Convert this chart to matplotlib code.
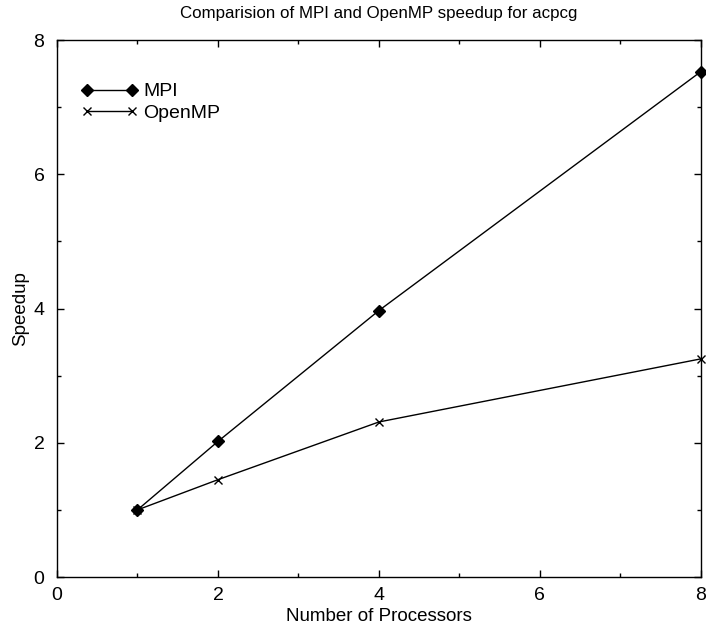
import matplotlib
matplotlib.use("Agg")
import matplotlib.pyplot as plt
from matplotlib.ticker import MultipleLocator

plt.rcParams['font.family'] = ['Liberation Sans', 'DejaVu Sans']

procs = [1, 2, 4, 8]
mpi = [1.0, 2.02, 3.97, 7.53]
openmp = [1.0, 1.45, 2.31, 3.25]

fig = plt.figure(figsize=(7.06, 6.28), dpi=100)
ax = fig.add_axes([0.0807, 0.0812, 0.912, 0.855])

ax.plot(procs, mpi, color='black', lw=1, marker='D', ms=6.2, label='MPI', clip_on=False)
ax.plot(procs, openmp, color='black', lw=1, marker='x', ms=6, mew=1, label='OpenMP', clip_on=False)

ax.set_xlim(0, 8)
ax.set_ylim(0, 8)
ax.xaxis.set_major_locator(MultipleLocator(2))
ax.xaxis.set_minor_locator(MultipleLocator(1))
ax.yaxis.set_major_locator(MultipleLocator(2))
ax.yaxis.set_minor_locator(MultipleLocator(1))
ax.tick_params(which='both', direction='in', top=True, right=True, labelsize=14, width=1)
ax.tick_params(which='major', length=5)
ax.tick_params(which='minor', length=3)
ax.tick_params(axis='x', which='major', pad=7)
ax.tick_params(axis='y', which='major', pad=9)
for s in ax.spines.values():
    s.set_linewidth(1)

ax.set_title('Comparision of MPI and OpenMP speedup for acpcg', fontsize=12.2, pad=16)
ax.set_xlabel('Number of Processors', fontsize=13.5, labelpad=3)
ax.set_ylabel('Speedup', fontsize=13.5, labelpad=3)

ax.legend(loc='upper left', numpoints=2, frameon=False, fontsize=14, handlelength=2.95,
          handletextpad=0.25, labelspacing=0.2, bbox_to_anchor=(0.025, 0.935), borderaxespad=0)

fig.savefig('out.png', dpi=100)
